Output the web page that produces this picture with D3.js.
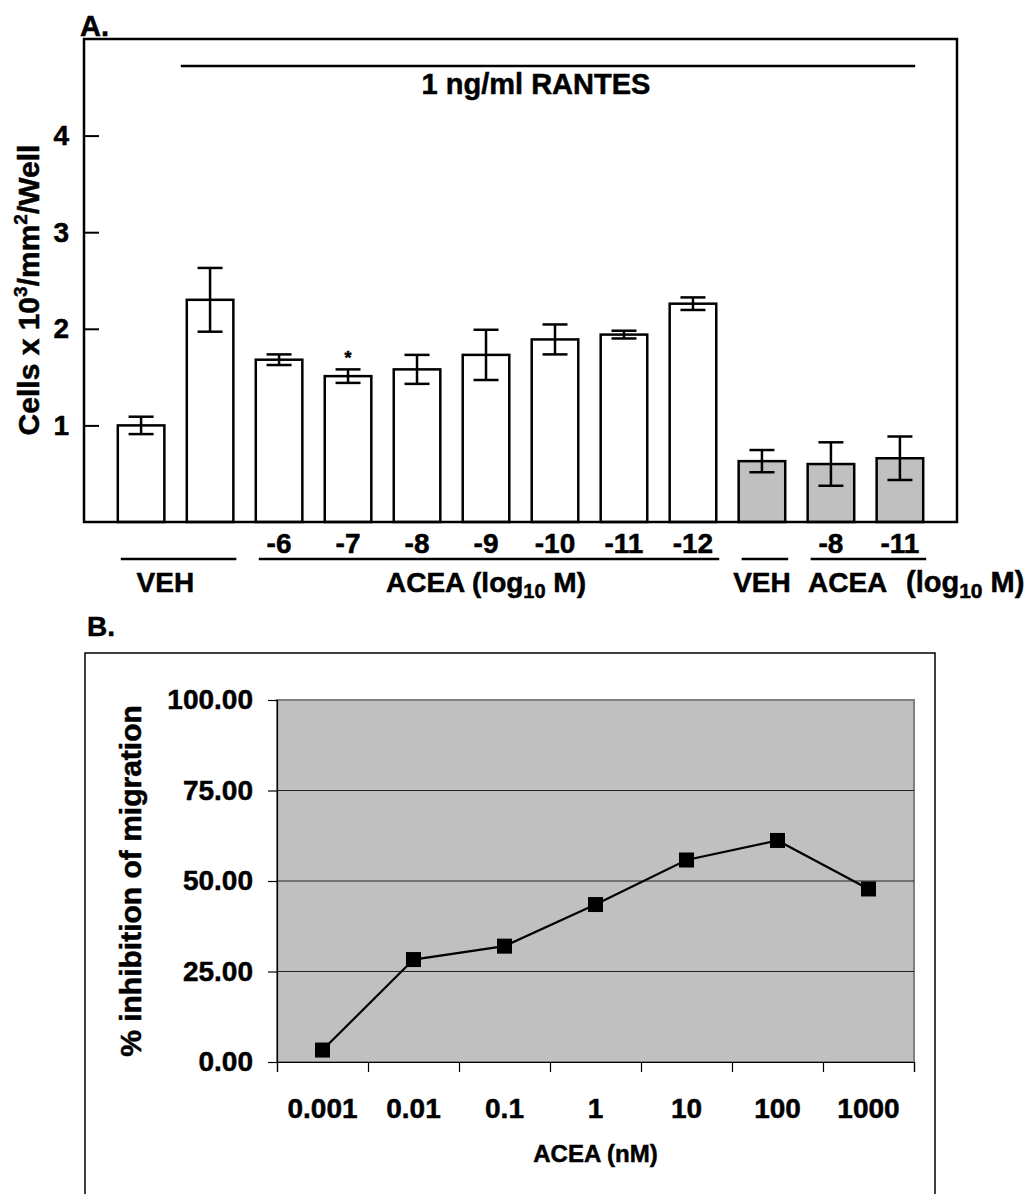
<!DOCTYPE html>
<html>
<head>
<meta charset="utf-8">
<script src="https://cdn.jsdelivr.net/npm/d3@7"></script>
<style>
	body { margin: 0; background: #fff; }
	svg text { font-family: 'Liberation Sans', Arial, sans-serif; font-weight: bold; fill: #000; stroke: #000; stroke-width: 0.5; }
</style>
</head>
<body>
<div id="chart_div"></div>
<script>
// panel A - cell counts per treatment
var a_ticks = ['', '', '-6', '-7', '-8', '-9', '-10', '-11', '-12', '', '-8', '-11'];
var a_means = [1.0, 2.3, 1.68, 1.51, 1.58, 1.73, 1.89, 1.94, 2.26, 0.63, 0.6, 0.66];
var a_errors = [0.09, 0.33, 0.055, 0.07, 0.15, 0.26, 0.155, 0.04, 0.065, 0.115, 0.225, 0.225];
var a_shaded = [0, 0, 0, 0, 0, 0, 0, 0, 0, 1, 1, 1];
var a_star = [3];
var a_yticks = [1, 2, 3, 4];
var a_groups = [
	{ from: 0, to: 1 },
	{ from: 2, to: 8 },
	{ from: 9, to: 9 },
	{ from: 10, to: 11 },
];

// panel B - % inhibition vs ACEA dose
var b_doses = ['0.001', '0.01', '0.1', '1', '10', '100', '1000'];
var b_values = [3.3, 28.3, 32.0, 43.5, 55.8, 61.2, 47.8];
var b_yticks = [0, 25, 50, 75, 100];

function draw_svg(div_id) {
	return d3
		.select('#' + div_id)
		.append('svg')
		.attr('width', 1028)
		.attr('height', 1194);
}

function draw_panel_a(svg) {
	var left = 84, right = 957, top = 39, bottom = 522;
	var y = d3.scaleLinear().domain([0, 5]).range([bottom, top]);
	var x = d3
		.scaleBand()
		.domain(d3.range(a_means.length))
		.range([left, right])
		.paddingInner(0.325)
		.paddingOuter(0.49);
	var bw = x.bandwidth();

	svg.append('text').attr('x', 80).attr('y', 36).attr('font-size', 29).text('A.');

	// bars
	svg.selectAll('.bar')
		.data(a_means)
		.enter()
		.append('rect')
		.attr('class', 'bar')
		.attr('x', (d, i) => x(i))
		.attr('y', (d) => y(d))
		.attr('width', bw)
		.attr('height', (d) => bottom - y(d))
		.attr('fill', (d, i) => (a_shaded[i] ? '#c0c0c0' : '#fff'))
		.attr('stroke', '#000')
		.attr('stroke-width', 2.5);

	// error bars
	var err = svg.selectAll('.err').data(a_means).enter().append('g').attr('class', 'err');
	err.append('line')
		.attr('x1', (d, i) => x(i) + bw / 2)
		.attr('x2', (d, i) => x(i) + bw / 2)
		.attr('y1', (d, i) => y(d + a_errors[i]))
		.attr('y2', (d, i) => y(d - a_errors[i]));
	err.append('line')
		.attr('x1', (d, i) => x(i) + bw / 2 - 12.5)
		.attr('x2', (d, i) => x(i) + bw / 2 + 12.5)
		.attr('y1', (d, i) => y(d + a_errors[i]))
		.attr('y2', (d, i) => y(d + a_errors[i]));
	err.append('line')
		.attr('x1', (d, i) => x(i) + bw / 2 - 12.5)
		.attr('x2', (d, i) => x(i) + bw / 2 + 12.5)
		.attr('y1', (d, i) => y(d - a_errors[i]))
		.attr('y2', (d, i) => y(d - a_errors[i]));
	err.selectAll('line').attr('stroke', '#000').attr('stroke-width', 2.5);

	svg.selectAll('.star')
		.data(a_star)
		.enter()
		.append('text')
		.attr('x', (d) => x(d) + bw / 2)
		.attr('y', (d) => y(a_means[d] + a_errors[d]) - 5)
		.attr('text-anchor', 'middle')
		.attr('font-size', 18)
		.text('*');

	// frame
	svg.append('rect')
		.attr('x', left)
		.attr('y', top)
		.attr('width', right - left)
		.attr('height', bottom - top)
		.attr('fill', 'none')
		.attr('stroke', '#000')
		.attr('stroke-width', 2.5);

	var y_axis = svg
		.append('g')
		.attr('transform', 'translate(' + left + ',0)')
		.call(d3.axisLeft(y).tickValues(a_yticks).tickSize(-15).tickPadding(15).tickFormat(d3.format('d')));
	y_axis.select('.domain').remove();
	y_axis.selectAll('line').attr('stroke-width', 2);
	y_axis.selectAll('text').attr('font-size', 28).attr('font-family', null);

	var x_axis = svg
		.append('g')
		.attr('transform', 'translate(0,' + bottom + ')')
		.call(d3.axisBottom(x).tickSize(0).tickPadding(11).tickFormat((d) => a_ticks[d]));
	x_axis.select('.domain').remove();
	x_axis.selectAll('text').attr('font-size', 28).attr('font-family', null);

	// RANTES bar
	var r_x1 = x(1) - 6, r_x2 = x(11) + bw - 8;
	svg.append('line')
		.attr('x1', r_x1).attr('x2', r_x2)
		.attr('y1', y(4.72)).attr('y2', y(4.72))
		.attr('stroke', '#000').attr('stroke-width', 2.5);
	svg.append('text')
		.attr('x', (r_x1 + r_x2) / 2 - 12)
		.attr('y', 94)
		.attr('text-anchor', 'middle')
		.attr('font-size', 29)
		.text('1 ng/ml RANTES');

	// group underlines
	svg.selectAll('.group_line')
		.data(a_groups)
		.enter()
		.append('line')
		.attr('x1', (d) => x(d.from) + 3)
		.attr('x2', (d) => x(d.to) + bw + 3)
		.attr('y1', 559)
		.attr('y2', 559)
		.attr('stroke', '#000')
		.attr('stroke-width', 2.5);

	svg.append('text').attr('x', x(0) + bw + 1).attr('y', 592).attr('text-anchor', 'middle').attr('font-size', 28).text('VEH');
	var acea = svg.append('text').attr('x', (x(2) + x(8) + bw) / 2).attr('y', 592).attr('text-anchor', 'middle').attr('font-size', 28);
	acea.append('tspan').text('ACEA (log');
	acea.append('tspan').attr('font-size', 20).attr('dy', 6).text('10');
	acea.append('tspan').attr('dy', -6).text(' M)');

	svg.append('text').attr('x', x(9) + bw / 2).attr('y', 592).attr('text-anchor', 'middle').attr('font-size', 28).text('VEH');
	svg.append('text').attr('x', 808).attr('y', 592).attr('font-size', 28).text('ACEA');
	var log2 = svg.append('text').attr('x', 906).attr('y', 592).attr('font-size', 29);
	log2.append('tspan').text('(log');
	log2.append('tspan').attr('font-size', 21).attr('dy', 6).text('10');
	log2.append('tspan').attr('dy', -6).text(' M)');

	var y_title = svg
		.append('text')
		.attr('transform', 'translate(39,290) rotate(-90)')
		.attr('text-anchor', 'middle')
		.attr('font-size', 30);
	y_title.append('tspan').text('Cells x 10');
	y_title.append('tspan').attr('font-size', 19).attr('dy', -12).text('3');
	y_title.append('tspan').attr('dy', 12).text('/mm');
	y_title.append('tspan').attr('font-size', 19).attr('dy', -12).text('2');
	y_title.append('tspan').attr('dy', 12).text('/Well');
}

function draw_panel_b(svg) {
	var left = 277, right = 914, top = 700, bottom = 1062;
	var y = d3.scaleLinear().domain([0, 100]).range([bottom, top]);
	var x = d3.scaleBand().domain(b_doses).range([left, right]);
	var x_edges = d3.scaleLinear().domain([0, b_doses.length]).range([left, right]);

	svg.append('text').attr('x', 87).attr('y', 636).attr('font-size', 28).text('B.');

	svg.append('rect')
		.attr('x', 85)
		.attr('y', 653)
		.attr('width', 850)
		.attr('height', 600)
		.attr('fill', 'none')
		.attr('stroke', '#000')
		.attr('stroke-width', 1.5);

	svg.append('rect')
		.attr('x', left)
		.attr('y', top)
		.attr('width', right - left)
		.attr('height', bottom - top)
		.attr('fill', '#c0c0c0')
		.attr('stroke', '#808080')
		.attr('stroke-width', 2);

	svg.selectAll('.grid')
		.data(b_yticks.slice(1, -1))
		.enter()
		.append('line')
		.attr('x1', left)
		.attr('x2', right)
		.attr('y1', (d) => y(d))
		.attr('y2', (d) => y(d))
		.attr('stroke', '#222')
		.attr('stroke-width', 1.2);

	var y_axis = svg
		.append('g')
		.attr('transform', 'translate(' + left + ',0)')
		.call(d3.axisLeft(y).tickValues(b_yticks).tickSize(9).tickPadding(15).tickFormat(d3.format('.2f')));
	y_axis.selectAll('text').attr('font-size', 28).attr('font-family', null);
	y_axis.selectAll('line, path').attr('stroke', '#000').attr('stroke-width', 1.2);

	var tick_axis = svg
		.append('g')
		.attr('transform', 'translate(0,' + bottom + ')')
		.call(d3.axisBottom(x_edges).tickValues(d3.range(b_doses.length + 1)).tickSize(10).tickFormat(''));
	tick_axis.selectAll('line, path').attr('stroke', '#000').attr('stroke-width', 1.2);

	var x_axis = svg
		.append('g')
		.attr('transform', 'translate(0,' + bottom + ')')
		.call(d3.axisBottom(x).tickSize(0).tickPadding(36));
	x_axis.select('.domain').remove();
	x_axis.selectAll('text').attr('font-size', 28).attr('font-family', null);

	var line = d3
		.line()
		.x((d, i) => x(b_doses[i]) + x.bandwidth() / 2)
		.y((d) => y(d));
	svg.append('path')
		.datum(b_values)
		.attr('d', line)
		.attr('fill', 'none')
		.attr('stroke', '#000')
		.attr('stroke-width', 2.2);

	svg.selectAll('.marker')
		.data(b_values)
		.enter()
		.append('rect')
		.attr('x', (d, i) => x(b_doses[i]) + x.bandwidth() / 2 - 7.5)
		.attr('y', (d) => y(d) - 7.5)
		.attr('width', 15)
		.attr('height', 15)
		.attr('fill', '#000');

	svg.append('text')
		.attr('x', (left + right) / 2)
		.attr('y', 1162)
		.attr('text-anchor', 'middle')
		.attr('font-size', 24)
		.text('ACEA (nM)');

	svg.append('text')
		.attr('transform', 'translate(141,' + (top + bottom) / 2 + ') rotate(-90)')
		.attr('text-anchor', 'middle')
		.attr('font-size', 30)
		.text('% inhibition of migration');
}

var svg = draw_svg('chart_div');
draw_panel_a(svg);
draw_panel_b(svg);
</script>
</body>
</html>
